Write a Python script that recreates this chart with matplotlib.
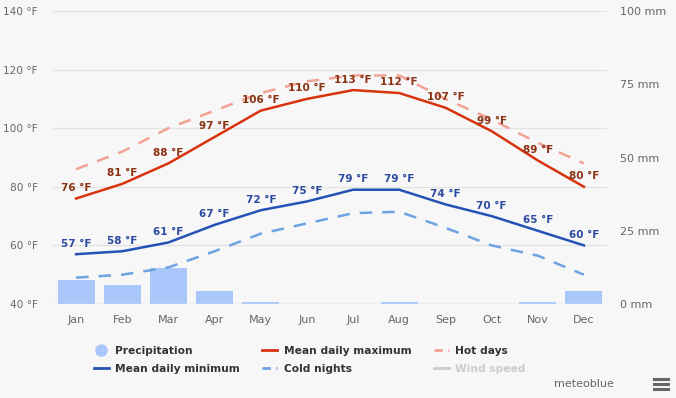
import numpy as np
import matplotlib.pyplot as plt
from matplotlib.lines import Line2D

# -----------------------------
# DADOS
# -----------------------------
months = ["Jan", "Feb", "Mar", "Apr", "May", "Jun", "Jul", "Aug", "Sep", "Oct", "Nov", "Dec"]
mean_max = [76, 81, 88, 97, 106, 110, 113, 112, 107, 99, 89, 80]
mean_min = [57, 58, 61, 67, 72, 75, 79, 79, 74, 70, 65, 60]
hot_days = [86, 92, 100, 106, 112, 116, 118, 118, 110, 103, 95, 88]
cold_nights = [49, 50, 52.5, 58, 64, 67.5, 71, 71.5, 66, 60, 56.5, 50]
precip = [8.2, 6.5, 12.3, 4.5, 0.6, 0, 0, 0.6, 0, 0, 0.6, 4.5]

temp_ticks = [40, 60, 80, 100, 120, 140]
mm_ticks = [0, 25, 50, 75, 100]

bg = "#f7f7f7"
red = "#d8330d"
blue = "#2452b5"
salmon = "#f2a395"
lightblue = "#6ea3e3"
barcol = "#a9c7fa"

x = np.arange(len(months))

fig = plt.figure(figsize=(6.76, 3.98), dpi=100, facecolor=bg)
ax = fig.add_axes([53/676, 1-304/398, 554/676, 293/398])
ax.set_facecolor(bg)
ax2 = ax.twinx()

# precipitação (eixo direito)
ax2.bar(x, precip, width=0.8, color=barcol, zorder=1)
ax2.set_ylim(0, 100)
ax2.set_yticks(mm_ticks)
ax2.set_yticklabels([f"{v} mm" for v in mm_ticks])

# temperaturas
ax.set_zorder(ax2.get_zorder() + 1)
ax.patch.set_visible(False)
ax.plot(x, hot_days, color=salmon, lw=1.8, dashes=(5, 4))
ax.plot(x, cold_nights, color=lightblue, lw=1.8, dashes=(5, 4))
ax.plot(x, mean_max, color=red, lw=1.8)
ax.plot(x, mean_min, color=blue, lw=1.8)

for xi, v in zip(x, mean_max):
    ax.annotate(f"{v} °F", (xi, v), xytext=(0, 4), textcoords="offset points",
                ha="center", va="bottom", fontsize=7.5, fontweight="bold", color="#8a3212")
for xi, v in zip(x, mean_min):
    ax.annotate(f"{v} °F", (xi, v), xytext=(0, 4), textcoords="offset points",
                ha="center", va="bottom", fontsize=7.5, fontweight="bold", color="#2c4ba0")

ax.set_xlim(-0.5, 11.5)
ax.set_ylim(40, 140)
ax.set_yticks(temp_ticks)
ax.set_yticklabels([f"{v} °F" for v in temp_ticks])
ax.set_xticks(x)
ax.set_xticklabels(months)
ax.grid(axis="y", color="#e3e3e3", lw=0.9)
ax.set_axisbelow(True)

for a in (ax, ax2):
    for s in a.spines.values():
        s.set_visible(False)
    a.tick_params(length=0, labelsize=8, colors="#666666")
ax.tick_params(axis="y", pad=11, labelsize=7.6)
ax.tick_params(axis="x", pad=8)
ax2.tick_params(axis="y", pad=9)
ax.axhline(40, color="#ccd6eb", lw=1)

# -----------------------------
# LEGENDA
# -----------------------------
handles = [
    Line2D([], [], marker="o", ls="none", color=barcol, markersize=8),
    Line2D([], [], color=blue, lw=2),
    Line2D([], [], color=red, lw=2),
    Line2D([], [], color=lightblue, lw=2, dashes=(3, 2)),
    Line2D([], [], color=salmon, lw=2, dashes=(3, 2)),
    Line2D([], [], color="#cccccc", lw=2),
]
labels = ["Precipitation", "Mean daily minimum", "Mean daily maximum",
          "Cold nights", "Hot days", "Wind speed"]
leg = fig.legend(handles, labels, ncol=3, loc="upper left", bbox_to_anchor=(84/676, 1-336/398),
                 frameon=False, prop={"weight": "bold", "size": 7.7}, handlelength=1.4,
                 handletextpad=0.6, columnspacing=2.1, labelspacing=0.75)
for t in leg.get_texts():
    t.set_color("#333333")
leg.get_texts()[-1].set_color("#cccccc")

fig.text(584/676, 1-384/398, "meteoblue", fontsize=8, color="#666666", ha="center", va="center")
for yy in (379, 384, 389):
    fig.add_artist(Line2D([654/676, 668/676], [1-yy/398, 1-yy/398], color="#666666", lw=2.2))

plt.savefig("out.png", dpi=100, facecolor=bg)
